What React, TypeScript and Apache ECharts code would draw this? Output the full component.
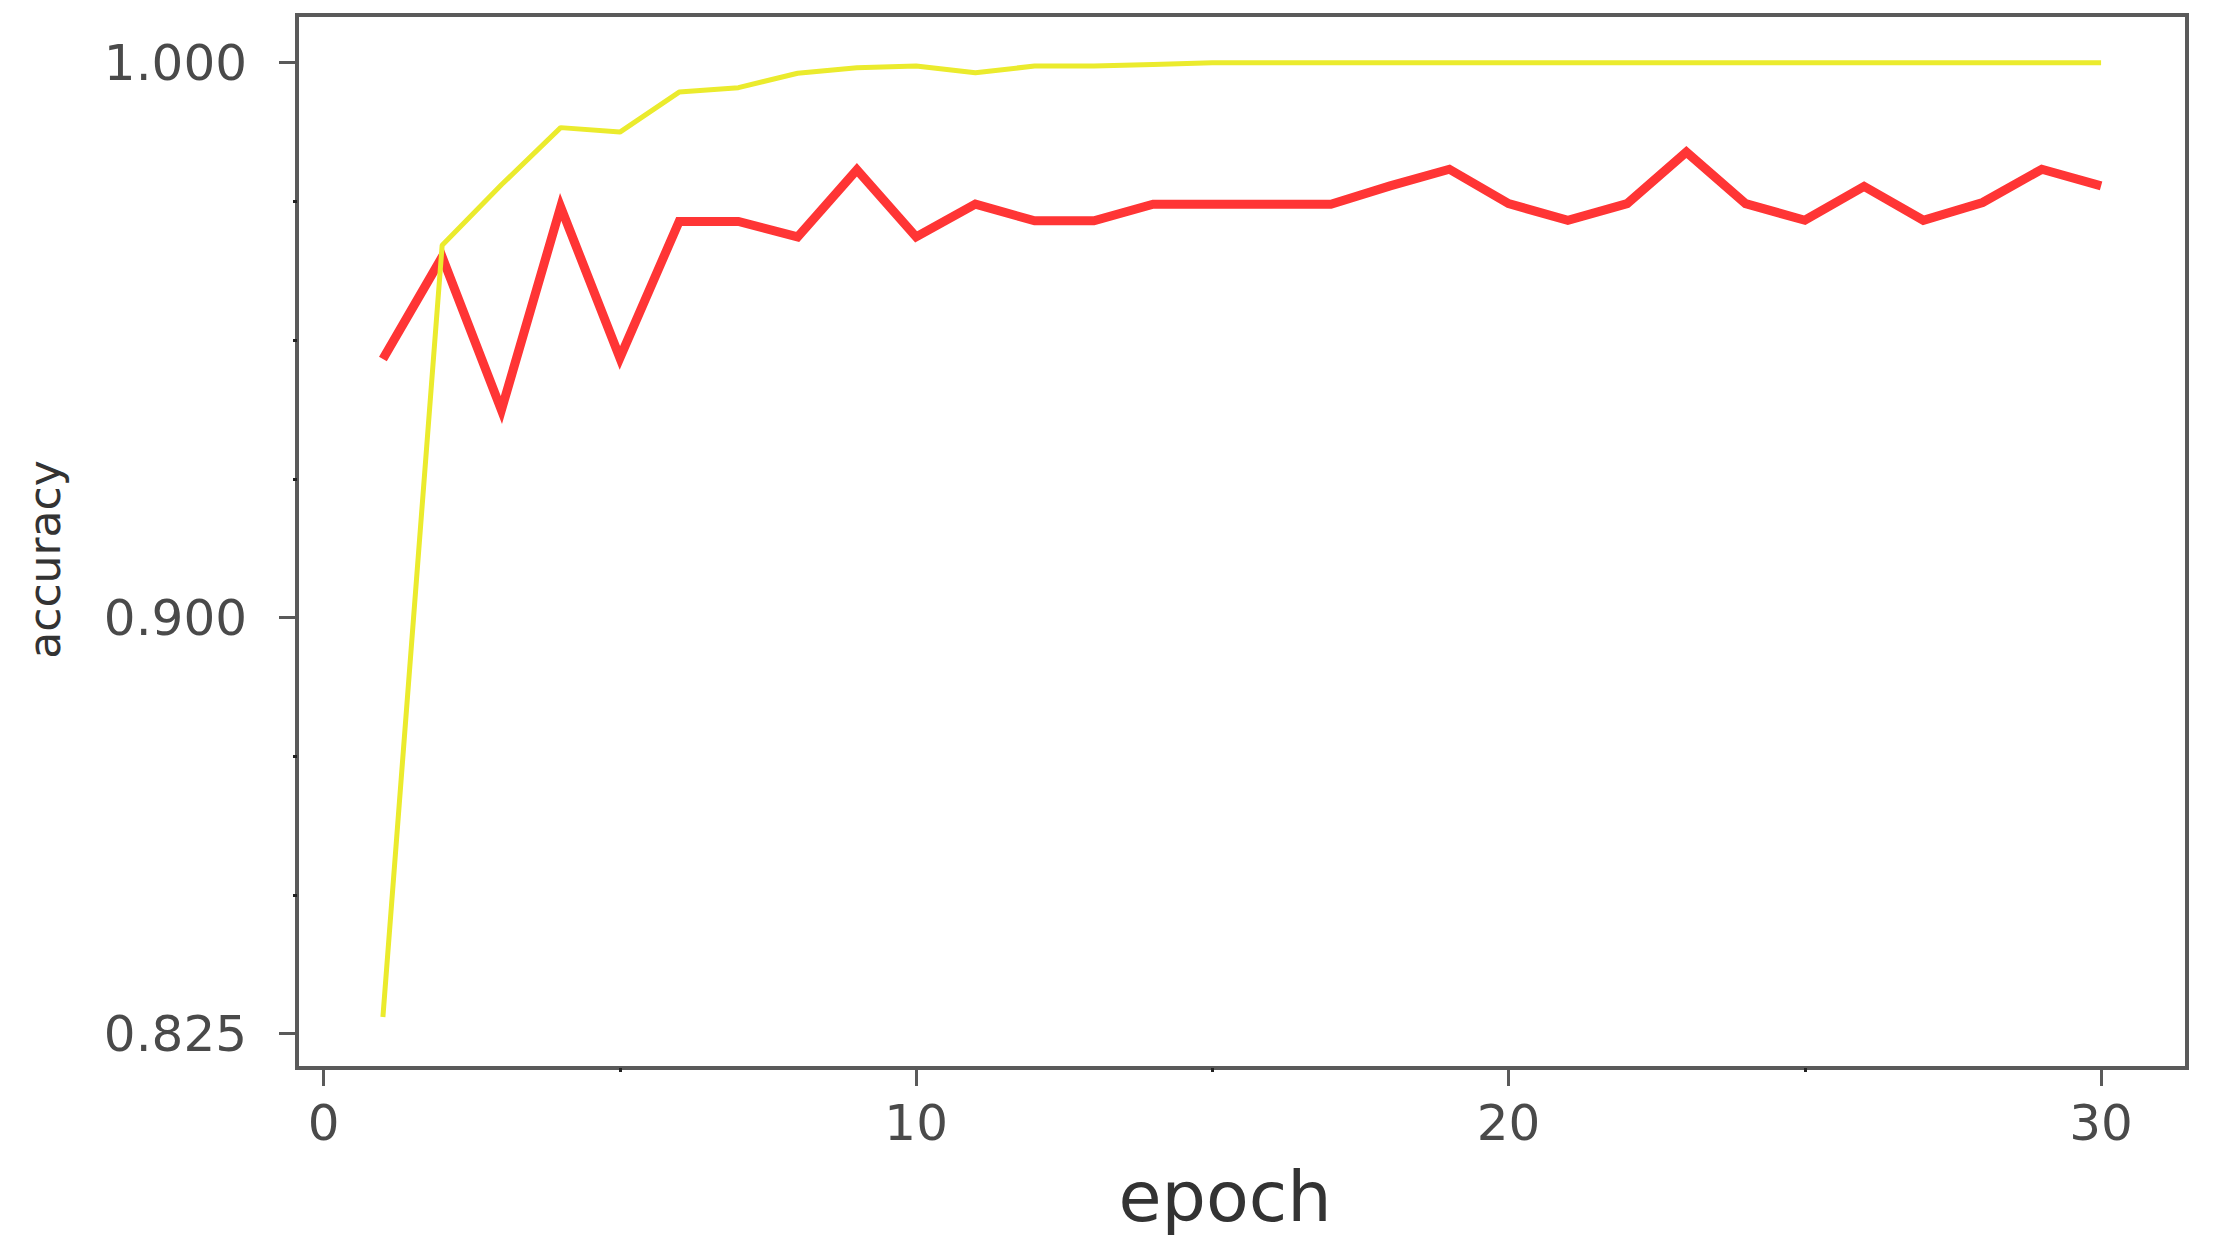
import React, { useEffect, useRef } from "react";
import * as echarts from "echarts";

const epochs = [1, 2, 3, 4, 5, 6, 7, 8, 9, 10, 11, 12, 13, 14, 15, 16, 17, 18, 19, 20, 21, 22, 23, 24, 25, 26, 27, 28, 29, 30];

const trainAcc = [
  0.828, 0.9671, 0.978, 0.9883, 0.9875, 0.9947, 0.9955, 0.9981, 0.9991, 0.9994,
  0.9982, 0.9994, 0.9994, 0.9997, 1.0, 1.0, 1.0, 1.0, 1.0, 1.0,
  1.0, 1.0, 1.0, 1.0, 1.0, 1.0, 1.0, 1.0, 1.0, 1.0,
];

const valAcc = [
  0.9466, 0.965, 0.9374, 0.974, 0.9468, 0.9714, 0.9714, 0.9686, 0.9807, 0.9686,
  0.9745, 0.9715, 0.9715, 0.9745, 0.9745, 0.9745, 0.9745, 0.9778, 0.9808, 0.9746,
  0.9716, 0.9746, 0.9839, 0.9746, 0.9716, 0.9777, 0.9716, 0.9748, 0.9808, 0.9778,
];

const xMajorTicks = [0, 10, 20, 30];
const xMinorTicks = [5, 15, 25];
const yMajorTicks = [0.825, 0.9, 1.0];
const yMinorTicks = [0.85, 0.875, 0.925, 0.95, 0.975];

const X_MIN = -0.45;
const X_MAX = 31.45;
const Y_MIN = 0.8188;
const Y_MAX = 1.0086;

export default function App() {
  const ref = useRef<HTMLDivElement | null>(null);

  useEffect(() => {
    document.body.style.margin = "0";
    if (!ref.current) return;
    const chart = echarts.init(ref.current, undefined, { renderer: "svg" });
    const font = "DejaVu Sans";
    const frame = "#5a5a5a";
    chart.setOption({
      animation: false,
      backgroundColor: "#ffffff",
      grid: {
        left: 297,
        top: 15,
        right: 28,
        bottom: 188,
        show: true,
        borderColor: frame,
        borderWidth: 4,
        backgroundColor: "#ffffff",
      },
      xAxis: [
        {
          type: "value",
          min: X_MIN,
          max: X_MAX,
          position: "bottom",
          splitLine: { show: false },
          axisLine: { show: false, onZero: false },
          axisTick: {
            show: true,
            customValues: xMajorTicks,
            length: 18,
            lineStyle: { color: frame, width: 3 },
          },
          axisLabel: {
            show: true,
            customValues: xMajorTicks,
            margin: 30,
            fontFamily: font,
            fontSize: 50,
            color: "#4a4a4a",
            formatter: (v: number) => String(Math.round(v)),
          },
          name: "epoch",
          nameLocation: "middle",
          nameGap: 94,
          nameTextStyle: { fontFamily: font, fontSize: 70, color: "#333333", padding: [0, 34, 0, 0] },
        },
        {
          type: "value",
          min: X_MIN,
          max: X_MAX,
          position: "bottom",
          splitLine: { show: false },
          axisLine: { show: false, onZero: false },
          axisTick: {
            show: true,
            customValues: xMinorTicks,
            length: 4,
            lineStyle: { color: "#222222", width: 3 },
          },
          axisLabel: { show: false },
        },
      ],
      yAxis: [
        {
          type: "value",
          min: Y_MIN,
          max: Y_MAX,
          position: "left",
          splitLine: { show: false },
          axisLine: { show: false, onZero: false },
          axisTick: {
            show: true,
            customValues: yMajorTicks,
            length: 18,
            lineStyle: { color: frame, width: 3 },
          },
          axisLabel: {
            show: true,
            customValues: yMajorTicks,
            margin: 50,
            fontFamily: font,
            fontSize: 50,
            color: "#4a4a4a",
            formatter: (v: number) => v.toFixed(3),
          },
          name: "accuracy",
          nameLocation: "middle",
          nameGap: 231,
          nameTextStyle: { fontFamily: font, fontSize: 44, color: "#333333", padding: [0, 36, 0, 0] },
        },
        {
          type: "value",
          min: Y_MIN,
          max: Y_MAX,
          position: "left",
          splitLine: { show: false },
          axisLine: { show: false, onZero: false },
          axisTick: {
            show: true,
            customValues: yMinorTicks,
            length: 4,
            lineStyle: { color: "#222222", width: 3 },
          },
          axisLabel: { show: false },
        },
      ],
      series: [
        {
          name: "val_acc",
          type: "line",
          xAxisIndex: 0,
          yAxisIndex: 0,
          data: epochs.map((e, i) => [e, valAcc[i]]),
          showSymbol: false,
          lineStyle: { color: "#ff3535", width: 9, join: "miter" },
          itemStyle: { color: "#ff3535" },
          z: 2,
        },
        {
          name: "acc",
          type: "line",
          xAxisIndex: 0,
          yAxisIndex: 0,
          data: epochs.map((e, i) => [e, trainAcc[i]]),
          showSymbol: false,
          lineStyle: { color: "#ebeb2d", width: 5 },
          itemStyle: { color: "#ebeb2d" },
          z: 3,
        },
      ],
    });
    return () => chart.dispose();
  }, []);

  return <div ref={ref} style={{ width: 2215, height: 1256 }} />;
}
